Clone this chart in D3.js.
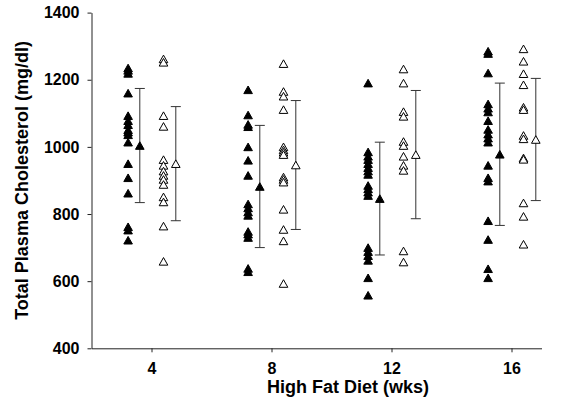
<!DOCTYPE html>
<html>
<head>
<meta charset="utf-8">
<script src="https://cdn.jsdelivr.net/npm/d3@7"></script>
<style>
  body { margin: 0; background: #fff; }
  text { font-family: "Liberation Sans", Arial, sans-serif; font-weight: bold; }
</style>
</head>
<body>
<div id="chart"></div>
<script>
// weeks on high fat diet
const weeks = [4, 8, 12, 16];
const yTicks = [400, 600, 800, 1000, 1200, 1400];

// individual animals, filled triangles
const filled4 = [1235, 1228, 1219, 1160, 1093, 1078, 1066, 1051, 1044, 1036, 1014, 950, 908, 862, 762, 752, 722];
const filled8 = [1170, 1095, 1067, 1060, 1000, 960, 915, 830, 818, 806, 796, 748, 740, 730, 638, 628];
const filled12 = [1190, 985, 972, 962, 950, 938, 928, 918, 885, 875, 865, 855, 700, 688, 676, 662, 610, 558];
const filled16 = [1285, 1278, 1220, 1128, 1115, 1104, 1078, 1052, 1038, 1026, 1014, 945, 908, 898, 780, 724, 637, 610];

// individual animals, open triangles
const open4 = [1262, 1252, 1093, 1061, 962, 945, 928, 915, 903, 888, 851, 836, 764, 659];
const open8 = [1248, 1165, 1151, 1111, 1000, 991, 984, 977, 910, 903, 895, 814, 754, 720, 593];
const open12 = [1232, 1190, 1105, 1091, 1016, 1004, 972, 945, 930, 690, 657];
const open16 = [1292, 1255, 1218, 1185, 1118, 1111, 1034, 1024, 967, 963, 833, 793, 710];

// group mean and SD
const filledMean = [1004, 882, 846, 978];
const filledSD = [170, 182, 168, 212];
const openMean = [950, 946, 977, 1022];
const openSD = [170, 192, 191, 182];

const filledSets = [filled4, filled8, filled12, filled16];
const openSets = [open4, open8, open12, open16];

const W = 573, H = 413;
const margin = {top: 12.6, right: 31.5, bottom: 64.7, left: 91.5};
const width = W - margin.left - margin.right;
const height = H - margin.top - margin.bottom;

// horizontal offsets (weeks) of each column inside a group
const offFilled = -0.78, offFilledMean = -0.39, offOpen = 0.4, offOpenMean = 0.81;

const svg = d3.select("#chart").append("svg")
    .attr("width", W)
    .attr("height", H);
svg.append("rect").attr("width", W).attr("height", H).attr("fill", "#fff");

const g = svg.append("g")
    .attr("transform", `translate(${margin.left},${margin.top})`);

const x = d3.scaleLinear().domain([2, 17]).range([0, width]);
const y = d3.scaleLinear().domain([400, 1400]).range([height, 0]);

// triangle marker
const tw = 8.6, th = 7.6;
const tri = `M0,${-th / 2}L${tw / 2},${th / 2}L${-tw / 2},${th / 2}Z`;

// axes
const yAxis = g.append("g")
    .call(d3.axisLeft(y).tickValues(yTicks).tickFormat(d3.format("d"))
      .tickSize(4).tickSizeOuter(0).tickPadding(8));
const xAxis = g.append("g")
    .attr("transform", `translate(0,${height})`)
    .call(d3.axisBottom(x).tickValues(weeks).tickFormat(d3.format("d"))
      .tickSize(4).tickSizeOuter(0).tickPadding(10));

[yAxis, xAxis].forEach(a => {
  a.attr("font-size", 16).attr("font-family", null);
  a.select(".domain").attr("stroke", "#222");
  a.selectAll(".tick line").attr("stroke", "#222");
  a.selectAll(".tick text").attr("fill", "#000")
    .style("font-size", "16px").style("font-weight", "bold");
});

// error bars
function errorBars(means, sds, off) {
  const eg = g.append("g").attr("stroke", "#333").attr("stroke-width", 1);
  weeks.forEach((w, i) => {
    const cx = x(w + off);
    eg.append("line").attr("x1", cx).attr("x2", cx)
      .attr("y1", y(means[i] + sds[i])).attr("y2", y(means[i] - sds[i]));
    [means[i] + sds[i], means[i] - sds[i]].forEach(v => {
      eg.append("line").attr("x1", cx - 5).attr("x2", cx + 5)
        .attr("y1", y(v)).attr("y2", y(v));
    });
  });
}
errorBars(filledMean, filledSD, offFilledMean);
errorBars(openMean, openSD, offOpenMean);

// points
function points(sets, off, filled) {
  weeks.forEach((w, i) => {
    g.append("g").selectAll("path")
      .data(sets[i])
      .join("path")
      .attr("d", tri)
      .attr("transform", d => `translate(${x(w + off)},${y(d)})`)
      .attr("fill", filled ? "#000" : "#fff")
      .attr("stroke", "#000")
      .attr("stroke-width", 1);
  });
}
points(filledSets, offFilled, true);
points(openSets, offOpen, false);

// mean markers
g.append("g").selectAll("path")
  .data(filledMean)
  .join("path")
  .attr("d", tri)
  .attr("transform", (d, i) => `translate(${x(weeks[i] + offFilledMean)},${y(d)})`)
  .attr("fill", "#000").attr("stroke", "#000");
g.append("g").selectAll("path")
  .data(openMean)
  .join("path")
  .attr("d", tri)
  .attr("transform", (d, i) => `translate(${x(weeks[i] + offOpenMean)},${y(d)})`)
  .attr("fill", "#fff").attr("stroke", "#000");

// axis titles
svg.append("text")
  .attr("transform", `translate(28,${margin.top + height / 2}) rotate(-90)`)
  .attr("text-anchor", "middle")
  .style("font-size", "18px")
  .text("Total Plasma Cholesterol (mg/dl)");

svg.append("text")
  .attr("x", 348)
  .attr("y", 393)
  .attr("text-anchor", "middle")
  .style("font-size", "18px")
  .text("High Fat Diet (wks)");
</script>
</body>
</html>
